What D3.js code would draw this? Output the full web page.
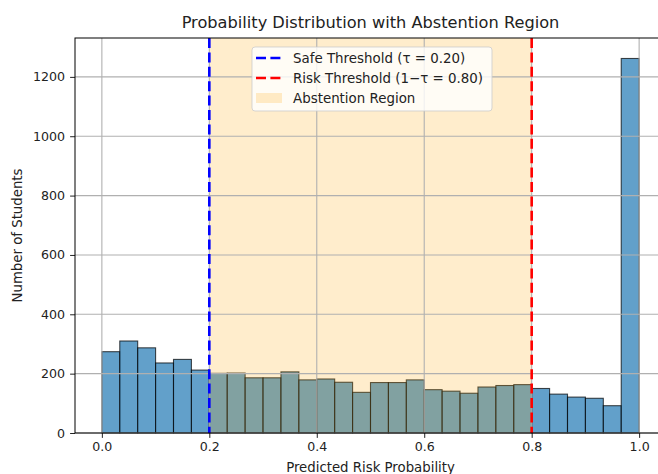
<!DOCTYPE html>
<html>
<head>
<meta charset="utf-8">
<script src="https://cdn.jsdelivr.net/npm/d3@7"></script>
<style>
  body { margin: 0; background: #fff; }
  svg { display: block; font-family: "DejaVu Sans", sans-serif; }
</style>
</head>
<body>
<div id="chart"></div>
<script>
// histogram counts, 30 equal bins over [0, 1]
const binStart = 0;
const binEnd = 1;
const counts = [274, 310, 287, 236, 248, 212, 201, 202, 186, 186,
                206, 179, 182, 171, 137, 170, 170, 179, 146, 141,
                134, 155, 160, 163, 150, 131, 121, 117, 92, 1262];
const tau = 0.20;
const xTicks = [0.0, 0.2, 0.4, 0.6, 0.8, 1.0];
const yTicks = [0, 200, 400, 600, 800, 1000, 1200];
const xDomain = [-0.05, 1.05];
const yDomain = [0, 1331];
const legendLabels = ['Safe Threshold (\u03c4 = 0.20)', 'Risk Threshold (1\u2212\u03c4 = 0.80)', 'Abstention Region'];

const W = 658, H = 474;
const m = {left: 75, right: 666, top: 38, bottom: 433};

const svg = d3.select('#chart').append('svg')
  .attr('width', W).attr('height', H);

const x = d3.scaleLinear().domain(xDomain).range([m.left, m.right]);
const y = d3.scaleLinear().domain(yDomain).range([m.bottom, m.top]);

const binW = (binEnd - binStart) / counts.length;
const bins = counts.map((c, i) => ({x0: binStart + i*binW, x1: binStart + (i+1)*binW, n: c}));

// bars
svg.append('g').selectAll('rect')
  .data(bins)
  .join('rect')
  .attr('x', d => x(d.x0))
  .attr('y', d => y(d.n))
  .attr('width', d => x(d.x1) - x(d.x0))
  .attr('height', d => y(0) - y(d.n))
  .attr('fill', '#1f77b4')
  .attr('fill-opacity', 0.7)
  .attr('stroke', 'rgba(0,0,0,0.7)')
  .attr('stroke-width', 1.1);

// abstention span
svg.append('rect')
  .attr('x', x(tau))
  .attr('y', m.top)
  .attr('width', x(1 - tau) - x(tau))
  .attr('height', m.bottom - m.top)
  .attr('fill', 'orange')
  .attr('fill-opacity', 0.2);

// grid
const grid = svg.append('g').attr('stroke', '#b0b0b0').attr('stroke-width', 1.1);
grid.selectAll('.gx').data(xTicks).join('line')
  .attr('x1', d => x(d)).attr('x2', d => x(d))
  .attr('y1', m.top).attr('y2', m.bottom);
grid.selectAll('.gy').data(yTicks).join('line')
  .attr('y1', d => y(d)).attr('y2', d => y(d))
  .attr('x1', m.left).attr('x2', m.right);

// threshold lines
[[tau, 'blue'], [1 - tau, 'red']].forEach(([v, c]) => {
  svg.append('line')
    .attr('x1', x(v)).attr('x2', x(v))
    .attr('y1', m.top).attr('y2', m.bottom)
    .attr('stroke', c)
    .attr('stroke-width', 2.6)
    .attr('stroke-dasharray', '10,4.4');
});

// axes
const xAxis = d3.axisBottom(x).tickValues(xTicks).tickFormat(d3.format('.1f')).tickSizeOuter(0).tickSize(4.9).tickPadding(4);
const yAxis = d3.axisLeft(y).tickValues(yTicks).tickFormat(d3.format('d')).tickSizeOuter(0).tickSize(4.9).tickPadding(5);

svg.append('g').attr('transform', `translate(0,${m.bottom})`).call(xAxis)
  .call(g => g.select('.domain').remove());
svg.append('g').attr('transform', `translate(${m.left},0)`).call(yAxis)
  .call(g => g.select('.domain').remove());
svg.selectAll('.tick text').attr('font-size', 12.6).attr('font-family', '"DejaVu Sans", sans-serif').attr('fill', '#222');
svg.selectAll('.tick line').attr('stroke', '#222').attr('stroke-width', 1);

// spines
svg.append('rect')
  .attr('x', m.left).attr('y', m.top)
  .attr('width', m.right - m.left).attr('height', m.bottom - m.top)
  .attr('fill', 'none').attr('stroke', '#000').attr('stroke-width', 1);

// title and labels
svg.append('text')
  .attr('x', (m.left + m.right)/2).attr('y', 28)
  .attr('text-anchor', 'middle')
  .attr('font-size', 16.2).attr('fill', '#222')
  .text('Probability Distribution with Abstention Region');

svg.append('text')
  .attr('x', (m.left + m.right)/2).attr('y', 472)
  .attr('text-anchor', 'middle')
  .attr('font-size', 13.3).attr('fill', '#222')
  .text('Predicted Risk Probability');

svg.append('text')
  .attr('transform', `translate(22,${(m.top + m.bottom)/2}) rotate(-90)`)
  .attr('text-anchor', 'middle')
  .attr('font-size', 13.3).attr('fill', '#222')
  .text('Number of Students');

// legend
const lg = svg.append('g').attr('transform', 'translate(252,47)');
lg.append('rect')
  .attr('width', 240).attr('height', 64)
  .attr('rx', 3)
  .attr('fill', '#fff').attr('fill-opacity', 0.8)
  .attr('stroke', '#ccc').attr('stroke-opacity', 0.8);
const rowY = [11, 31, 51];
lg.append('line').attr('x1', 4).attr('x2', 30).attr('y1', rowY[0]).attr('y2', rowY[0])
  .attr('stroke', 'blue').attr('stroke-width', 2.6).attr('stroke-dasharray', '10,4.4');
lg.append('line').attr('x1', 4).attr('x2', 30).attr('y1', rowY[1]).attr('y2', rowY[1])
  .attr('stroke', 'red').attr('stroke-width', 2.6).attr('stroke-dasharray', '10,4.4');
lg.append('rect').attr('x', 4).attr('y', rowY[2] - 5).attr('width', 26).attr('height', 10)
  .attr('fill', 'orange').attr('fill-opacity', 0.2);
lg.selectAll('.lt').data(legendLabels).join('text')
  .attr('x', 41).attr('y', (d, i) => rowY[i] + 4.5)
  .attr('font-size', 13.4).attr('fill', '#222')
  .text(d => d);
</script>
</body>
</html>
